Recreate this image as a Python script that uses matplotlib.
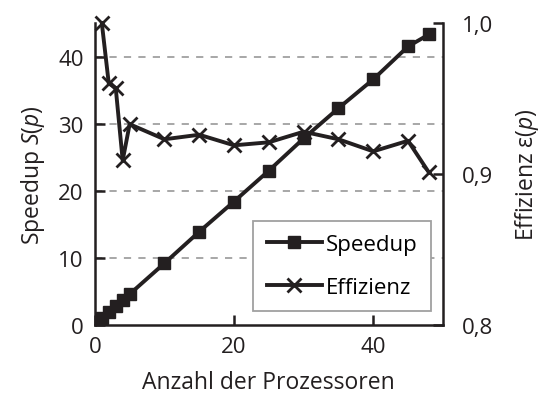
import matplotlib
matplotlib.use("Agg")
from matplotlib import pyplot as plt

plt.rcParams['font.family'] = ['Open Sans', 'DejaVu Sans']
plt.rcParams['mathtext.fontset'] = 'custom'
plt.rcParams['mathtext.rm'] = 'Open Sans'
plt.rcParams['mathtext.it'] = 'Open Sans:italic'

# Processors and measured values
procs = [1, 2, 3, 4, 5, 10, 15, 20, 25, 30, 35, 40, 45, 48]
speedup = [1.0, 1.9, 2.8, 3.7, 4.6, 9.2, 13.9, 18.4, 23.0, 27.8, 32.3, 36.6, 41.5, 43.3]
effizienz = [1.0, 0.960, 0.957, 0.909, 0.933, 0.923, 0.926, 0.919, 0.921, 0.928, 0.923, 0.915, 0.922, 0.901]

col = '#231f20'

fig = plt.figure(figsize=(5.42, 4.14), dpi=100)
ax = fig.add_axes([0.175, 0.2126, 0.642, 0.7294])
ax2 = ax.twinx()

for y in [10, 20, 30, 40]:
    ax.axhline(y, color='#a0a0a0', linestyle=(0, (4, 4)), linewidth=1.3, zorder=0)

l1, = ax.plot(procs, speedup, color=col, linewidth=2.8, marker='s', markersize=9,
              label='Speedup', zorder=3, clip_on=False)
l2, = ax2.plot(procs, effizienz, color=col, linewidth=2.8, marker='x', markersize=10,
               markeredgewidth=2, label='Effizienz', zorder=3, clip_on=False)

ax.set_xlim(0, 50)
ax.set_ylim(0, 45)
ax2.set_ylim(0.8, 1.0)
ax.set_xticks([0, 20, 40])
ax.set_yticks([0, 10, 20, 30, 40])
ax2.set_yticks([0.8, 0.9, 1.0])
ax2.set_yticklabels(['0,8', '0,9', '1,0'])

for a in (ax, ax2):
    a.spines['top'].set_visible(False)
    for s in a.spines.values():
        s.set_linewidth(1.8)
        s.set_color(col)
    a.tick_params(direction='in', length=7, width=1.8, color=col, labelsize=16, labelcolor=col)
ax.spines['right'].set_visible(False)
ax2.spines['left'].set_visible(False)
ax2.spines['bottom'].set_visible(False)
ax.tick_params(axis='x', pad=8)
ax.tick_params(axis='y', pad=8)
ax2.tick_params(axis='y', pad=14)

ax.set_xlabel('Anzahl der Prozessoren', fontsize=16.5, color=col, labelpad=9)
ax.set_ylabel('Speedup $S$($p$)', fontsize=16.5, color=col, labelpad=8)
ax2.set_ylabel('Effizienz ε($p$)', fontsize=16.5, color=col, rotation=90, labelpad=14)

leg = ax2.legend(handles=[l1, l2], loc='lower right', bbox_to_anchor=(0.965, 0.045),
                 fontsize=16, frameon=True, fancybox=False, handlelength=2.5,
                 handletextpad=0.15, borderpad=0.6, labelspacing=1.0, framealpha=1,
                 borderaxespad=0)
leg.get_frame().set_edgecolor('#a0a0a0')
leg.get_frame().set_linewidth(1.3)

fig.savefig('out.png', dpi=100)
